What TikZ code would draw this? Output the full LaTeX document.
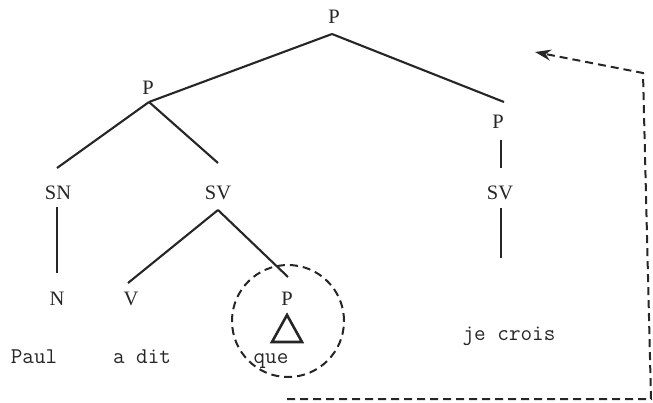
\documentclass[tikz,border=0pt]{standalone}
\usepackage{fontspec}
\setmainfont{Liberation Serif}
\usetikzlibrary{arrows.meta}
\definecolor{ink}{HTML}{262626}
\begin{document}
\begin{tikzpicture}[x=1pt,y=-1pt,
  lab/.style={font=\fontsize{20.5}{24}\selectfont, text=ink, inner sep=0pt, anchor=base},
  word/.style={font=\ttfamily\fontsize{22.5}{26}\selectfont, text=ink, inner sep=0pt, anchor=base},
  branch/.style={draw=ink, line width=2.1pt},
  move/.style={draw=ink, line width=2pt, dash pattern=on 8pt off 5pt},
]
\useasboundingbox (0,0) rectangle (653,402);
% labels
\node[lab] (P0) at (334,23) {P};
\node[lab] (P1) at (148,94) {P};
\node[lab] (P2) at (498,128.5) {P};
\node[lab] (SN) at (58,199) {SN};
\node[lab] (SV1) at (218,199) {SV};
\node[lab] (SV2) at (500,199) {SV};
\node[lab] (N) at (57,305) {N};
\node[lab] (V) at (131,305) {V};
\node[lab] (P3) at (287,305) {P};
\node[word] (paul) at (34,363) {Paul};
\node[word] (adit) at (142,363) {a dit};
\node[word] (que) at (271,363) {que};
\node[word] (jecrois) at (509,340) {je crois};
% attachment points
\coordinate (P0b) at (332,34);
\coordinate (P1t) at (149,102);
\coordinate (P2t) at (504,102);
\coordinate (P2b) at (501,140);
\coordinate (SNt) at (57,168);
\coordinate (SV1t) at (218,163);
\coordinate (SV2t) at (501,168);
\coordinate (SNb) at (57,207);
\coordinate (Nt) at (57,273);
\coordinate (SV1b) at (218,210);
\coordinate (Vt) at (128,283);
\coordinate (P3t) at (288,277);
\coordinate (SV2b) at (501,208);
\coordinate (SV2e) at (501,258);
% branches
\draw[branch] (P0b) -- (P1t);
\draw[branch] (P0b) -- (P2t);
\draw[branch] (P1t) -- (SNt);
\draw[branch] (P1t) -- (SV1t);
\draw[branch] (P2b) -- (SV2t);
\draw[branch] (SNb) -- (Nt);
\draw[branch] (SV1b) -- (Vt);
\draw[branch] (SV1b) -- (P3t);
\draw[branch] (SV2b) -- (SV2e);
% triangle
\coordinate (ta) at (287,315);
\coordinate (tr) at (302,342);
\coordinate (tl) at (272,342);
\draw[draw=ink, line width=2.6pt, line join=miter] (ta) -- (tr) -- (tl) -- cycle;
% dashed circle
\node[circle, move, minimum size=112pt, inner sep=0pt] (ring) at (288,321) {};
% movement arrow
\coordinate (m0) at (287,399);
\coordinate (m1) at (651,399);
\coordinate (m2) at (643,73);
\coordinate (m3) at (535,52);
\draw[move, -{Stealth[length=16pt,width=11pt]}] (m0) -- (m1) -- (m2) -- (m3);
\end{tikzpicture}
\end{document}
